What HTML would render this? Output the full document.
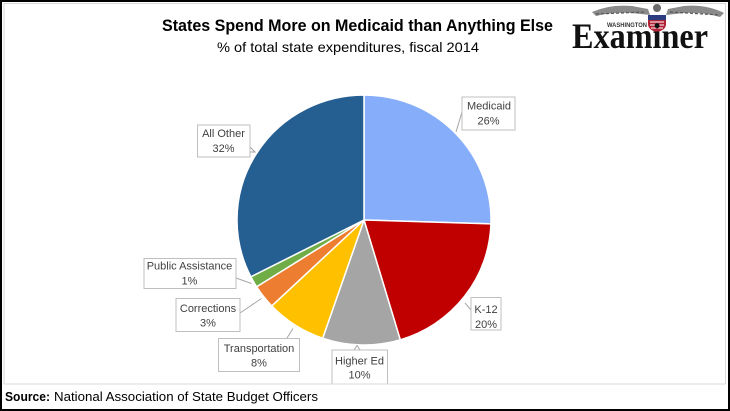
<!DOCTYPE html>
<html>
<head>
<meta charset="utf-8">
<style>
html,body{margin:0;padding:0;background:#fff;}
svg{display:block;}
text{font-family:"Liberation Sans",sans-serif;}
</style>
</head>
<body>
<svg width="730" height="411" viewBox="0 0 730 411" xmlns="http://www.w3.org/2000/svg">
  <rect x="0" y="0" width="730" height="411" fill="#fff"/>
  <!-- inner light frame -->
  <rect x="4" y="3.5" width="721.5" height="380.5" fill="none" stroke="#d9d9d9" stroke-width="1"/>
  <!-- outer black border -->
  <rect x="1" y="1" width="728" height="409" fill="none" stroke="#000" stroke-width="2"/>

  <!-- Title -->
  <text x="162" y="31" font-size="17" font-weight="bold" fill="#000" textLength="391" lengthAdjust="spacingAndGlyphs">States Spend More on Medicaid than Anything Else</text>
  <text x="217" y="52" font-size="14" fill="#000" textLength="262" lengthAdjust="spacingAndGlyphs">% of total state expenditures, fiscal 2014</text>

  <!-- Logo -->
  <g>
    <path d="M592,12 Q610,4 632,6 L648,9 L650,15 L632,13 Q612,12 596,16 Z" fill="#8a8a8a"/>
    <path d="M724,13 Q706,4 684,6 L668,9 L666,15 L684,13 Q704,12 720,17 Z" fill="#8a8a8a"/>
    <path d="M596,14 L646,12 M670,12 L720,15" stroke="#555" stroke-width="1.2" stroke-dasharray="3,2" fill="none"/>
    <circle cx="657" cy="8" r="4" fill="#6a6a6a"/>
    <path d="M648,15 L666,15 L666,24 Q666,30 657,32 Q648,30 648,24 Z" fill="#b22234"/>
    <rect x="648" y="15" width="18" height="5" fill="#2c3e80"/>
    <path d="M650,22 L664,22 M650,25 L664,25 M651,28 L663,28" stroke="#fff" stroke-width="1"/>
    <text x="607" y="27" font-size="6" font-weight="bold" fill="#333" textLength="40" lengthAdjust="spacingAndGlyphs">WASHINGTON</text>
    <text x="572" y="48" font-size="36" font-weight="bold" fill="#111" style="font-family:'Liberation Serif',serif" textLength="136" lengthAdjust="spacingAndGlyphs">Examiner</text>
  </g>

  <!-- Pie -->
  <g stroke="#fff" stroke-width="1.5" stroke-linejoin="round">
    <path d="M364,220 L364,95 A127,125 0 0 1 490.94,223.93 Z" fill="#86adf9"/>
    <path d="M364,220 L490.94,223.93 A127,125 0 0 1 400.28,339.79 Z" fill="#c00000"/>
    <path d="M364,220 L400.28,339.79 A127,125 0 0 1 322.65,338.19 Z" fill="#a5a5a5"/>
    <path d="M364,220 L322.65,338.19 A127,125 0 0 1 271.73,305.89 Z" fill="#ffc000"/>
    <path d="M364,220 L271.73,305.89 A127,125 0 0 1 256.65,286.79 Z" fill="#ed7d31"/>
    <path d="M364,220 L256.65,286.79 A127,125 0 0 1 250.84,276.75 Z" fill="#70ad47"/>
    <path d="M364,220 L250.84,276.75 A127,125 0 0 1 364,95 Z" fill="#255e91"/>
  </g>

  <!-- Leader lines -->
  <g stroke="#a6a6a6" stroke-width="1" fill="none">
    <polyline points="462,112 456,132"/>
    <polyline points="250,147 255,152 250,152"/>
    <polyline points="236,278 251.5,283.5"/>
    <polyline points="240,313 261.5,298.5"/>
    <polyline points="287,338 293,328.5"/>
    <polyline points="354,350 357,345.5 360,350"/>
    <polyline points="471,310 465,303"/>
  </g>

  <!-- Label boxes -->
  <g fill="#fff" stroke="#bfbfbf" stroke-width="1">
    <rect x="462" y="97" width="53" height="33"/>
    <rect x="197.5" y="125" width="52.5" height="32"/>
    <rect x="144" y="258.5" width="92" height="30"/>
    <rect x="176" y="298.5" width="64" height="33"/>
    <rect x="218.5" y="338.5" width="81" height="33"/>
    <rect x="332" y="350" width="55.5" height="36"/>
    <rect x="471" y="297.5" width="30" height="32.5"/>
  </g>

  <!-- Label text -->
  <g font-size="11" fill="#404040" text-anchor="middle">
    <text x="489" y="109.5">Medicaid</text>
    <text x="488.5" y="124.5">26%</text>
    <text x="223.5" y="137">All Other</text>
    <text x="223.5" y="152">32%</text>
    <text x="189.5" y="269.5">Public Assistance</text>
    <text x="189.5" y="284.5">1%</text>
    <text x="208" y="312">Corrections</text>
    <text x="208" y="326.5">3%</text>
    <text x="259" y="352">Transportation</text>
    <text x="259" y="366.5">8%</text>
    <text x="359.5" y="364.5">Higher Ed</text>
    <text x="359.5" y="378.5">10%</text>
    <text x="486" y="313">K-12</text>
    <text x="486" y="328">20%</text>
  </g>

  <!-- cover lower part of Higher Ed box under frame line -->
  <rect x="5" y="384.5" width="720" height="24" fill="#fff"/>
  <line x1="4" y1="384" x2="725.5" y2="384" stroke="#d9d9d9" stroke-width="1"/>

  <!-- Source -->
  <text y="401" font-size="13" fill="#000">
    <tspan x="5" font-weight="bold" textLength="45" lengthAdjust="spacingAndGlyphs">Source:</tspan>
    <tspan x="54" textLength="264" lengthAdjust="spacingAndGlyphs">National Association of State Budget Officers</tspan>
  </text>
</svg>
</body>
</html>
